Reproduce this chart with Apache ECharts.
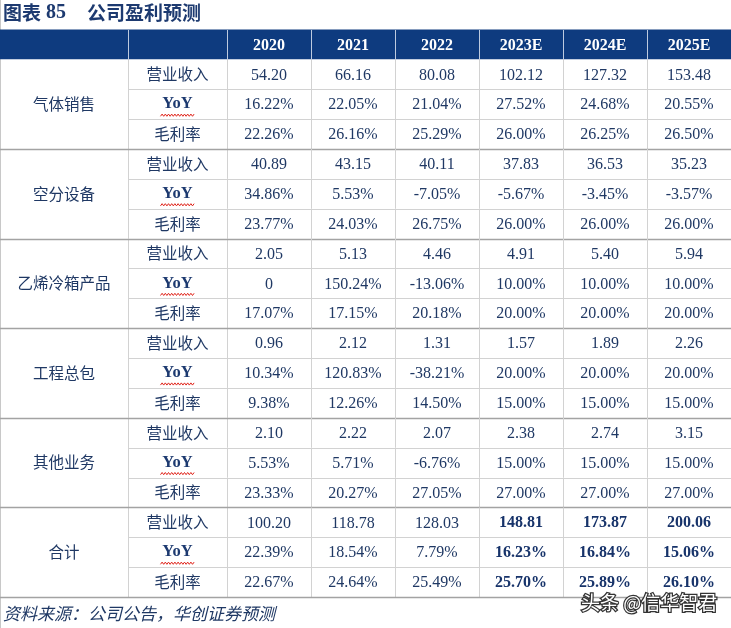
<!DOCTYPE html>
<html><head><meta charset="utf-8">
<script src="https://cdn.jsdelivr.net/npm/echarts@6/dist/echarts.min.js"></script>
<style>html,body{margin:0;padding:0;background:#fff}#c{width:731px;height:628px}</style>
</head><body><div id="c"></div>
<script>
// ---------- data ----------
const figureNo = '85';
const titleText = '公司盈利预测';
const sourceNote = '资料来源：公司公告，华创证券预测';
const watermark = '头条 @信华智君';
const years = ['2020', '2021', '2022', '2023E', '2024E', '2025E'];
const segments = ['气体销售', '空分设备', '乙烯冷箱产品', '工程总包', '其他业务', '合计'];
const metrics = ['营业收入', 'YoY', '毛利率'];

const gasSales = [
  ['54.20', '66.16', '80.08', '102.12', '127.32', '153.48'],
  ['16.22%', '22.05%', '21.04%', '27.52%', '24.68%', '20.55%'],
  ['22.26%', '26.16%', '25.29%', '26.00%', '26.25%', '26.50%']
];
const airSeparation = [
  ['40.89', '43.15', '40.11', '37.83', '36.53', '35.23'],
  ['34.86%', '5.53%', '-7.05%', '-5.67%', '-3.45%', '-3.57%'],
  ['23.77%', '24.03%', '26.75%', '26.00%', '26.00%', '26.00%']
];
const ethyleneColdBox = [
  ['2.05', '5.13', '4.46', '4.91', '5.40', '5.94'],
  ['0', '150.24%', '-13.06%', '10.00%', '10.00%', '10.00%'],
  ['17.07%', '17.15%', '20.18%', '20.00%', '20.00%', '20.00%']
];
const epcContracting = [
  ['0.96', '2.12', '1.31', '1.57', '1.89', '2.26'],
  ['10.34%', '120.83%', '-38.21%', '20.00%', '20.00%', '20.00%'],
  ['9.38%', '12.26%', '14.50%', '15.00%', '15.00%', '15.00%']
];
const otherBusiness = [
  ['2.10', '2.22', '2.07', '2.38', '2.74', '3.15'],
  ['5.53%', '5.71%', '-6.76%', '15.00%', '15.00%', '15.00%'],
  ['23.33%', '20.27%', '27.05%', '27.00%', '27.00%', '27.00%']
];
const totalRow = [
  ['100.20', '118.78', '128.03', '148.81', '173.87', '200.06'],
  ['22.39%', '18.54%', '7.79%', '16.23%', '16.84%', '15.06%'],
  ['22.67%', '24.64%', '25.49%', '25.70%', '25.89%', '26.10%']
];
const segmentValues = [gasSales, airSeparation, ethyleneColdBox, epcContracting, otherBusiness, totalRow];

// ---------- styles ----------
const NAVY = '#1f3864';
const HEAD = '#0e3b7f';
const LINE = '#d2d2d2';
const GLINE = '#a3a3a3';
const SERIF = '"Liberation Serif","Times New Roman",serif';
const CJK = '"Noto Sans CJK SC","Noto Sans",sans-serif';

const nM = metrics.length;
const rowCount = 1 + segments.length * nM;
const rowCats = Array.from({ length: rowCount }, (_, i) => 'r' + i);

// build cell lists from the arrays
const bodyCells = [];
segmentValues.forEach((seg, s) => seg.forEach((vals, m) => vals.forEach((v, j) => {
  bodyCells.push({ col: j, row: 1 + s * nM + m, text: v, seg: s, metric: m });
})));
const metricCells = [];
segments.forEach((_, s) => metrics.forEach((name, m) => {
  metricCells.push({ col: 0, row: 1 + s * nM + m, text: name, metric: m });
}));
const segmentCells = segments.map((name, s) => ({ col: 0, row: 1 + s * nM + Math.floor(nM / 2), text: name }));

function cellRect(api) {
  const c = api.coord([api.value(0), api.value(1)]);
  const s = api.size([1, 1]);
  return { x: c[0] - s[0] / 2, y: c[1] - s[1] / 2, w: s[0], h: s[1], cx: c[0], cy: c[1] };
}
const px = v => Math.round(v) + 0.5;
function hLine(x1, x2, y, color, lw) {
  return { type: 'line', z2: 10, shape: { x1: x1, y1: px(y), x2: x2, y2: px(y) }, style: { stroke: color, lineWidth: lw || 1 } };
}
function vLine(x, y1, y2, color) {
  return { type: 'line', z2: 10, shape: { x1: px(x), y1: y1, x2: px(x), y2: y2 }, style: { stroke: color, lineWidth: 1 } };
}
function wavy(cx, y, halfW) {
  const pts = [];
  let k = 0;
  for (let x = cx - halfW; x <= cx + halfW; x += 1.6, k++) pts.push([x, y + (k % 2 ? -1.1 : 1.1)]);
  return { type: 'polyline', z2: 11, shape: { points: pts }, style: { stroke: '#e0241b', lineWidth: 1, fill: null } };
}

function headerRender(labels, lastCol) {
  return function (params, api) {
    const r = cellRect(api);
    const ch = [{ type: 'rect', shape: { x: r.x, y: r.y, width: r.w + 1, height: r.h }, style: { fill: HEAD } }];
    const lab = labels[params.dataIndex];
    if (lab) ch.push({ type: 'text', z2: 12, style: { text: lab, x: r.cx, y: r.cy + 1, align: 'center', verticalAlign: 'middle', fill: '#fff', font: 'bold 16px ' + SERIF } });
    if (!(lastCol && params.dataIndex === labels.length - 1)) ch.push(vLine(r.x + r.w, r.y, r.y + r.h, 'rgba(220,228,240,0.85)'));
    return { type: 'group', children: ch };
  };
}

const grids = [
  { left: 0, top: 29.5, width: 128, height: 567.5 },
  { left: 128, top: 29.5, width: 99, height: 567.5 },
  { left: 227, top: 29.5, width: 504, height: 567.5 }
];
const xCats = [['seg'], ['metric'], years];

const option = {
  animation: false,
  backgroundColor: '#fff',
  title: {
    left: 3, top: 3, padding: 0,
    text: '{a|图表} {b|' + figureNo + '}{s|}{a|' + titleText + '}',
    textStyle: {
      rich: {
        a: { fontFamily: CJK, fontWeight: 'bold', fontSize: 19, color: '#1d3a70' },
        b: { fontFamily: SERIF, fontWeight: 'bold', fontSize: 20, color: '#1d3a70' },
        s: { width: 21 }
      }
    }
  },
  grid: grids,
  xAxis: xCats.map((cats, i) => ({ type: 'category', gridIndex: i, data: cats, show: false })),
  yAxis: grids.map((_, i) => ({ type: 'category', gridIndex: i, data: rowCats, inverse: true, show: false })),
  graphic: [
    { type: 'line', shape: { x1: 0.5, y1: 0, x2: 0.5, y2: 628 }, style: { stroke: '#c8c8c8', lineWidth: 1 } },
    { type: 'text', x: 3, y: 614, style: { text: sourceNote, font: 'italic 17px ' + CJK, fill: NAVY, verticalAlign: 'middle' } },
    { type: 'text', x: 581, y: 603, z: 100, style: { text: watermark, font: '19px ' + CJK, fill: '#333', stroke: '#333', lineWidth: 2.5, verticalAlign: 'middle' } },
    { type: 'text', x: 581, y: 603, z: 101, style: { text: watermark, font: '19px ' + CJK, fill: '#fff', verticalAlign: 'middle' } }
  ],
  series: [
    // headers
    { type: 'custom', xAxisIndex: 0, yAxisIndex: 0, data: [[0, 0]], renderItem: headerRender([''], false) },
    { type: 'custom', xAxisIndex: 1, yAxisIndex: 1, data: [[0, 0]], renderItem: headerRender([''], false) },
    { type: 'custom', xAxisIndex: 2, yAxisIndex: 2, data: years.map((_, j) => [j, 0]), renderItem: headerRender(years, true) },
    // segment column
    {
      type: 'custom', xAxisIndex: 0, yAxisIndex: 0,
      data: segmentCells.map(c => [c.col, c.row]),
      renderItem: function (params, api) {
        const r = cellRect(api);
        const c = segmentCells[params.dataIndex];
        const top = r.y - r.h * Math.floor(nM / 2);
        const bot = top + r.h * nM;
        return {
          type: 'group', children: [
            { type: 'text', style: { text: c.text, x: r.cx, y: r.cy, align: 'center', verticalAlign: 'middle', fill: NAVY, font: '15.5px ' + CJK } },
            hLine(r.x, r.x + r.w, bot, GLINE, 1.3),
            vLine(r.x + r.w, top, bot, LINE)
          ]
        };
      }
    },
    // metric column
    {
      type: 'custom', xAxisIndex: 1, yAxisIndex: 1,
      data: metricCells.map(c => [c.col, c.row]),
      renderItem: function (params, api) {
        const r = cellRect(api);
        const c = metricCells[params.dataIndex];
        const groupEnd = c.metric === nM - 1;
        const isLatin = /^[A-Za-z]+$/.test(c.text);
        const ch = [
          { type: 'text', style: { text: c.text, x: r.cx, y: r.cy, align: 'center', verticalAlign: 'middle', fill: isLatin ? '#1d3a70' : NAVY, font: isLatin ? 'bold 16.5px ' + SERIF : '15.5px ' + CJK } },
          hLine(r.x, r.x + r.w, r.y + r.h, groupEnd ? GLINE : LINE, groupEnd ? 1.3 : 1),
          vLine(r.x + r.w, r.y, r.y + r.h, LINE)
        ];
        if (isLatin) ch.push(wavy(r.cx, r.cy + 11, 17));
        return { type: 'group', children: ch };
      }
    },
    // value cells
    {
      type: 'custom', xAxisIndex: 2, yAxisIndex: 2,
      data: bodyCells.map(c => [c.col, c.row]),
      renderItem: function (params, api) {
        const r = cellRect(api);
        const c = bodyCells[params.dataIndex];
        const groupEnd = c.metric === nM - 1;
        const bold = segments[c.seg] === '合计' && years[c.col].endsWith('E');
        const ch = [
          { type: 'text', style: { text: c.text, x: r.cx, y: r.cy + 1, align: 'center', verticalAlign: 'middle', fill: bold ? '#17336a' : NAVY, font: (bold ? 'bold ' : '') + '16px ' + SERIF } },
          hLine(r.x, r.x + r.w, r.y + r.h, groupEnd ? GLINE : LINE, groupEnd ? 1.3 : 1)
        ];
        if (c.col < years.length - 1) ch.push(vLine(r.x + r.w, r.y, r.y + r.h, LINE));
        return { type: 'group', children: ch };
      }
    }
  ]
};
const chart = echarts.init(document.getElementById('c'), null, { renderer: 'canvas' });
chart.setOption(option);
</script></body></html>
